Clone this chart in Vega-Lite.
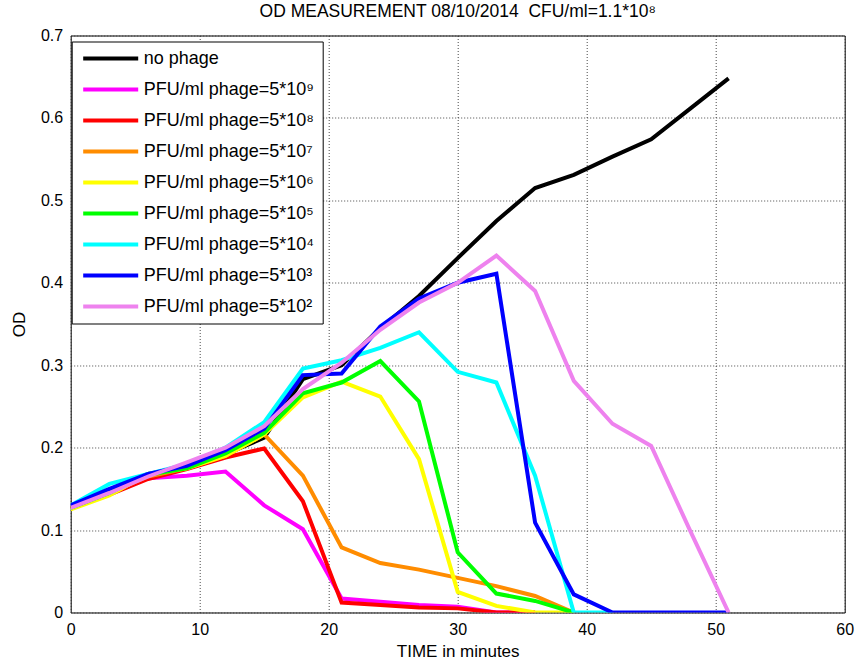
{
  "$schema": "https://vega.github.io/schema/vega-lite/v6.json",
  "width": 774,
  "height": 577,
  "autosize": {"type": "none"},
  "padding": {"left": 70.7, "top": 35.5, "right": 10, "bottom": 53},
  "background": "white",
  "title": {
    "text": "OD MEASUREMENT 08/10/2014 \u00a0CFU/ml=1.1*10⁸",
    "font": "Liberation Sans",
    "fontSize": 17.5,
    "fontWeight": "normal",
    "color": "#000000",
    "anchor": "middle",
    "offset": 7
  },
  "config": {
    "font": "Liberation Sans",
    "view": {"stroke": "#000000", "strokeWidth": 1},
    "axis": {
      "domain": false,
      "ticks": false,
      "grid": true,
      "gridColor": "#333333",
      "gridDash": [1, 2],
      "gridWidth": 1,
      "gridOpacity": 0.9,
      "labelFont": "Liberation Sans",
      "labelFontSize": 16,
      "labelColor": "#000000",
      "titleFont": "Liberation Sans",
      "titleFontSize": 17,
      "titleFontWeight": "normal",
      "titleColor": "#000000"
    }
  },
  "data": {
    "values": [
      {"series": "no phage", "t": 0, "od": 0.127},
      {"series": "no phage", "t": 3, "od": 0.148},
      {"series": "no phage", "t": 6, "od": 0.168},
      {"series": "no phage", "t": 9, "od": 0.176},
      {"series": "no phage", "t": 12, "od": 0.192},
      {"series": "no phage", "t": 15, "od": 0.212},
      {"series": "no phage", "t": 18, "od": 0.283},
      {"series": "no phage", "t": 21, "od": 0.300},
      {"series": "no phage", "t": 24, "od": 0.345},
      {"series": "no phage", "t": 27, "od": 0.384},
      {"series": "no phage", "t": 30, "od": 0.430},
      {"series": "no phage", "t": 33, "od": 0.475},
      {"series": "no phage", "t": 36, "od": 0.515},
      {"series": "no phage", "t": 39, "od": 0.531},
      {"series": "no phage", "t": 42, "od": 0.553},
      {"series": "no phage", "t": 45, "od": 0.574},
      {"series": "no phage", "t": 48, "od": 0.611},
      {"series": "no phage", "t": 51, "od": 0.648},

      {"series": "PFU/ml phage=5*10⁹", "t": 0, "od": 0.128},
      {"series": "PFU/ml phage=5*10⁹", "t": 3, "od": 0.146},
      {"series": "PFU/ml phage=5*10⁹", "t": 6, "od": 0.163},
      {"series": "PFU/ml phage=5*10⁹", "t": 9, "od": 0.166},
      {"series": "PFU/ml phage=5*10⁹", "t": 12, "od": 0.171},
      {"series": "PFU/ml phage=5*10⁹", "t": 15, "od": 0.130},
      {"series": "PFU/ml phage=5*10⁹", "t": 18, "od": 0.101},
      {"series": "PFU/ml phage=5*10⁹", "t": 21, "od": 0.017},
      {"series": "PFU/ml phage=5*10⁹", "t": 24, "od": 0.013},
      {"series": "PFU/ml phage=5*10⁹", "t": 27, "od": 0.009},
      {"series": "PFU/ml phage=5*10⁹", "t": 30, "od": 0.007},
      {"series": "PFU/ml phage=5*10⁹", "t": 33, "od": 0.0},
      {"series": "PFU/ml phage=5*10⁹", "t": 36, "od": 0.0},

      {"series": "PFU/ml phage=5*10⁸", "t": 0, "od": 0.126},
      {"series": "PFU/ml phage=5*10⁸", "t": 3, "od": 0.143},
      {"series": "PFU/ml phage=5*10⁸", "t": 6, "od": 0.162},
      {"series": "PFU/ml phage=5*10⁸", "t": 9, "od": 0.174},
      {"series": "PFU/ml phage=5*10⁸", "t": 12, "od": 0.188},
      {"series": "PFU/ml phage=5*10⁸", "t": 15, "od": 0.199},
      {"series": "PFU/ml phage=5*10⁸", "t": 18, "od": 0.135},
      {"series": "PFU/ml phage=5*10⁸", "t": 21, "od": 0.012},
      {"series": "PFU/ml phage=5*10⁸", "t": 24, "od": 0.009},
      {"series": "PFU/ml phage=5*10⁸", "t": 27, "od": 0.006},
      {"series": "PFU/ml phage=5*10⁸", "t": 30, "od": 0.005},
      {"series": "PFU/ml phage=5*10⁸", "t": 33, "od": 0.0},
      {"series": "PFU/ml phage=5*10⁸", "t": 36, "od": 0.0},

      {"series": "PFU/ml phage=5*10⁷", "t": 0, "od": 0.127},
      {"series": "PFU/ml phage=5*10⁷", "t": 3, "od": 0.145},
      {"series": "PFU/ml phage=5*10⁷", "t": 6, "od": 0.165},
      {"series": "PFU/ml phage=5*10⁷", "t": 9, "od": 0.175},
      {"series": "PFU/ml phage=5*10⁷", "t": 12, "od": 0.190},
      {"series": "PFU/ml phage=5*10⁷", "t": 15, "od": 0.216},
      {"series": "PFU/ml phage=5*10⁷", "t": 18, "od": 0.166},
      {"series": "PFU/ml phage=5*10⁷", "t": 21, "od": 0.079},
      {"series": "PFU/ml phage=5*10⁷", "t": 24, "od": 0.060},
      {"series": "PFU/ml phage=5*10⁷", "t": 27, "od": 0.052},
      {"series": "PFU/ml phage=5*10⁷", "t": 30, "od": 0.042},
      {"series": "PFU/ml phage=5*10⁷", "t": 33, "od": 0.032},
      {"series": "PFU/ml phage=5*10⁷", "t": 36, "od": 0.020},
      {"series": "PFU/ml phage=5*10⁷", "t": 39, "od": 0.0},

      {"series": "PFU/ml phage=5*10⁶", "t": 0, "od": 0.125},
      {"series": "PFU/ml phage=5*10⁶", "t": 3, "od": 0.142},
      {"series": "PFU/ml phage=5*10⁶", "t": 6, "od": 0.168},
      {"series": "PFU/ml phage=5*10⁶", "t": 9, "od": 0.175},
      {"series": "PFU/ml phage=5*10⁶", "t": 12, "od": 0.190},
      {"series": "PFU/ml phage=5*10⁶", "t": 15, "od": 0.216},
      {"series": "PFU/ml phage=5*10⁶", "t": 18, "od": 0.261},
      {"series": "PFU/ml phage=5*10⁶", "t": 21, "od": 0.280},
      {"series": "PFU/ml phage=5*10⁶", "t": 24, "od": 0.262},
      {"series": "PFU/ml phage=5*10⁶", "t": 27, "od": 0.186},
      {"series": "PFU/ml phage=5*10⁶", "t": 30, "od": 0.025},
      {"series": "PFU/ml phage=5*10⁶", "t": 33, "od": 0.008},
      {"series": "PFU/ml phage=5*10⁶", "t": 36, "od": 0.0},
      {"series": "PFU/ml phage=5*10⁶", "t": 39, "od": 0.0},

      {"series": "PFU/ml phage=5*10⁵", "t": 0, "od": 0.127},
      {"series": "PFU/ml phage=5*10⁵", "t": 3, "od": 0.145},
      {"series": "PFU/ml phage=5*10⁵", "t": 6, "od": 0.167},
      {"series": "PFU/ml phage=5*10⁵", "t": 9, "od": 0.175},
      {"series": "PFU/ml phage=5*10⁵", "t": 12, "od": 0.193},
      {"series": "PFU/ml phage=5*10⁵", "t": 15, "od": 0.218},
      {"series": "PFU/ml phage=5*10⁵", "t": 18, "od": 0.266},
      {"series": "PFU/ml phage=5*10⁵", "t": 21, "od": 0.279},
      {"series": "PFU/ml phage=5*10⁵", "t": 24, "od": 0.305},
      {"series": "PFU/ml phage=5*10⁵", "t": 27, "od": 0.256},
      {"series": "PFU/ml phage=5*10⁵", "t": 30, "od": 0.073},
      {"series": "PFU/ml phage=5*10⁵", "t": 33, "od": 0.023},
      {"series": "PFU/ml phage=5*10⁵", "t": 36, "od": 0.014},
      {"series": "PFU/ml phage=5*10⁵", "t": 39, "od": 0.0},

      {"series": "PFU/ml phage=5*10⁴", "t": 0, "od": 0.130},
      {"series": "PFU/ml phage=5*10⁴", "t": 3, "od": 0.156},
      {"series": "PFU/ml phage=5*10⁴", "t": 6, "od": 0.168},
      {"series": "PFU/ml phage=5*10⁴", "t": 9, "od": 0.180},
      {"series": "PFU/ml phage=5*10⁴", "t": 12, "od": 0.200},
      {"series": "PFU/ml phage=5*10⁴", "t": 15, "od": 0.231},
      {"series": "PFU/ml phage=5*10⁴", "t": 18, "od": 0.296},
      {"series": "PFU/ml phage=5*10⁴", "t": 21, "od": 0.306},
      {"series": "PFU/ml phage=5*10⁴", "t": 24, "od": 0.321},
      {"series": "PFU/ml phage=5*10⁴", "t": 27, "od": 0.340},
      {"series": "PFU/ml phage=5*10⁴", "t": 30, "od": 0.292},
      {"series": "PFU/ml phage=5*10⁴", "t": 33, "od": 0.279},
      {"series": "PFU/ml phage=5*10⁴", "t": 36, "od": 0.166},
      {"series": "PFU/ml phage=5*10⁴", "t": 39, "od": 0.0},
      {"series": "PFU/ml phage=5*10⁴", "t": 42, "od": 0.0},

      {"series": "PFU/ml phage=5*10³", "t": 0, "od": 0.130},
      {"series": "PFU/ml phage=5*10³", "t": 3, "od": 0.150},
      {"series": "PFU/ml phage=5*10³", "t": 6, "od": 0.168},
      {"series": "PFU/ml phage=5*10³", "t": 9, "od": 0.178},
      {"series": "PFU/ml phage=5*10³", "t": 12, "od": 0.197},
      {"series": "PFU/ml phage=5*10³", "t": 15, "od": 0.223},
      {"series": "PFU/ml phage=5*10³", "t": 18, "od": 0.288},
      {"series": "PFU/ml phage=5*10³", "t": 21, "od": 0.290},
      {"series": "PFU/ml phage=5*10³", "t": 24, "od": 0.347},
      {"series": "PFU/ml phage=5*10³", "t": 27, "od": 0.381},
      {"series": "PFU/ml phage=5*10³", "t": 30, "od": 0.400},
      {"series": "PFU/ml phage=5*10³", "t": 33, "od": 0.411},
      {"series": "PFU/ml phage=5*10³", "t": 36, "od": 0.109},
      {"series": "PFU/ml phage=5*10³", "t": 39, "od": 0.022},
      {"series": "PFU/ml phage=5*10³", "t": 42, "od": 0.0},
      {"series": "PFU/ml phage=5*10³", "t": 45, "od": 0.0},
      {"series": "PFU/ml phage=5*10³", "t": 48, "od": 0.0},
      {"series": "PFU/ml phage=5*10³", "t": 51, "od": 0.0},

      {"series": "PFU/ml phage=5*10²", "t": 0, "od": 0.127},
      {"series": "PFU/ml phage=5*10²", "t": 3, "od": 0.145},
      {"series": "PFU/ml phage=5*10²", "t": 6, "od": 0.165},
      {"series": "PFU/ml phage=5*10²", "t": 9, "od": 0.182},
      {"series": "PFU/ml phage=5*10²", "t": 12, "od": 0.200},
      {"series": "PFU/ml phage=5*10²", "t": 15, "od": 0.226},
      {"series": "PFU/ml phage=5*10²", "t": 18, "od": 0.271},
      {"series": "PFU/ml phage=5*10²", "t": 21, "od": 0.303},
      {"series": "PFU/ml phage=5*10²", "t": 24, "od": 0.343},
      {"series": "PFU/ml phage=5*10²", "t": 27, "od": 0.376},
      {"series": "PFU/ml phage=5*10²", "t": 30, "od": 0.400},
      {"series": "PFU/ml phage=5*10²", "t": 33, "od": 0.433},
      {"series": "PFU/ml phage=5*10²", "t": 36, "od": 0.390},
      {"series": "PFU/ml phage=5*10²", "t": 39, "od": 0.281},
      {"series": "PFU/ml phage=5*10²", "t": 42, "od": 0.229},
      {"series": "PFU/ml phage=5*10²", "t": 45, "od": 0.202},
      {"series": "PFU/ml phage=5*10²", "t": 48, "od": 0.100},
      {"series": "PFU/ml phage=5*10²", "t": 51, "od": 0.0}
    ]
  },
  "mark": {"type": "line", "strokeWidth": 4, "strokeJoin": "miter", "clip": true},
  "encoding": {
    "x": {
      "field": "t",
      "type": "quantitative",
      "title": "TIME in minutes",
      "scale": {"domain": [0, 60], "nice": false, "zero": false},
      "axis": {"values": [0, 10, 20, 30, 40, 50, 60], "labelPadding": 9, "titlePadding": 6, "labelFlush": false}
    },
    "y": {
      "field": "od",
      "type": "quantitative",
      "title": "OD",
      "scale": {"domain": [0, 0.7], "nice": false},
      "axis": {"values": [0, 0.1, 0.2, 0.3, 0.4, 0.5, 0.6, 0.7], "format": "~g", "labelPadding": 8, "titlePadding": 12, "labelFlush": false}
    },
    "color": {
      "field": "series",
      "type": "nominal",
      "sort": null,
      "scale": {
        "domain": ["no phage", "PFU/ml phage=5*10⁹", "PFU/ml phage=5*10⁸", "PFU/ml phage=5*10⁷", "PFU/ml phage=5*10⁶", "PFU/ml phage=5*10⁵", "PFU/ml phage=5*10⁴", "PFU/ml phage=5*10³", "PFU/ml phage=5*10²"],
        "range": ["#000000", "#ff00ff", "#ff0000", "#ff8c00", "#ffff00", "#00ff00", "#00ffff", "#0000ff", "#ee82ee"]
      },
      "legend": {
        "title": null,
        "orient": "none",
        "legendX": 1,
        "legendY": 6,
        "padding": 8,
        "fillColor": "#ffffff",
        "strokeColor": "#000000",
        "symbolType": "M-5.5,0H5.5",
        "symbolSize": 100,
        "symbolStrokeWidth": 4,
        "symbolOffset": 22,
        "labelOffset": 24,
        "labelFont": "Liberation Sans",
        "labelFontSize": 18,
        "labelColor": "#000000",
        "labelLimit": 400,
        "rowPadding": 13
      }
    }
  }
}
